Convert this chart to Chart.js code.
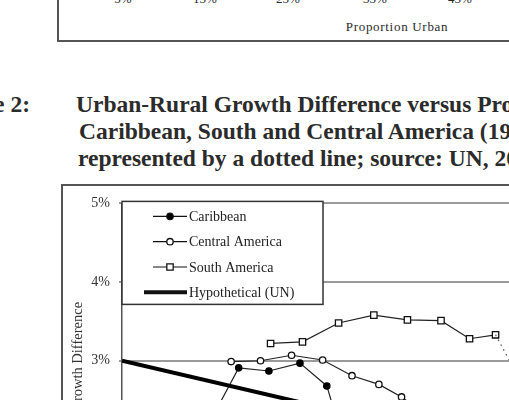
<!DOCTYPE html>
<html>
<head>
<meta charset="utf-8">
<script src="https://cdn.jsdelivr.net/npm/chart.js@4.4.1/dist/chart.umd.min.js"></script>
<style>
  html, body { margin: 0; padding: 0; background: #fff; }
  body { width: 509px; height: 400px; overflow: hidden; position: relative; font-family: "Liberation Serif", serif; color: #2a2a2a; }
  .prev { position: absolute; left: 57px; top: -10px; width: 700px; height: 50px; border-left: 2px solid #555; border-bottom: 2px solid #555; }
  .prevTick { position: absolute; top: -8px; font-size: 13px; line-height: 13px; transform: translateX(-50%); }
  .prevTitle { position: absolute; top: 19px; left: 397px; transform: translateX(-50%); font-size: 13px; letter-spacing: 0.7px; white-space: nowrap; }
  .cap { position: absolute; font-weight: bold; font-size: 23.5px; line-height: 27px; white-space: nowrap; color: #2b2b2b; }
  #frame { position: absolute; left: 61px; top: 184px; width: 700px; height: 520px; border: 2px solid #555; box-sizing: border-box; }
  #chart { position: absolute; left: 0; top: 0; }
</style>
</head>
<body>

<!-- bottom of the previous figure -->
<div class="prev"></div>
<div class="prevTick" style="left:123px">5%</div>
<div class="prevTick" style="left:205px">15%</div>
<div class="prevTick" style="left:288px">25%</div>
<div class="prevTick" style="left:375px">35%</div>
<div class="prevTick" style="left:460px">45%</div>
<div class="prevTitle">Proportion Urban</div>

<!-- caption -->
<div class="cap" style="right:479px; top:91px">Figure 2:</div>
<div class="cap" style="left:76px; top:91px">Urban-Rural Growth Difference versus Proportion Urban for the</div>
<div class="cap" style="left:79px; top:118px">Caribbean, South and Central America (1950-2030; projections</div>
<div class="cap" style="left:78px; top:145px">represented by a dotted line; source: UN, 2002)</div>

<div id="frame">
  <canvas id="chart" width="662" height="449" style="width:662px;height:449px"></canvas>
</div>

<script>
// Caribbean
const caribbeanX = [35.0, 38.9, 42.5, 46.2, 49.4, 51.0];
const caribbeanY = [2.13, 2.91, 2.87, 2.97, 2.68, 2.10];
// Central America
const centralX = [38.0, 41.5, 45.2, 48.9, 52.4, 55.6, 58.3, 61.0];
const centralY = [2.99, 3.00, 3.07, 3.01, 2.81, 2.70, 2.54, 2.33];
// South America
const southX = [42.7, 46.5, 50.8, 55.0, 59.0, 63.0, 66.4, 69.5];
const southY = [3.22, 3.24, 3.48, 3.58, 3.52, 3.51, 3.28, 3.33];
// South America projection (dotted)
const southProjX = [69.5, 73.0];
const southProjY = [3.33, 2.64];
// Hypothetical (UN)
const hypoX = [25, 95];
const hypoY = [3.0, 1.26];

const yTicks = [1, 2, 3, 4, 5];
const xTicks = [25, 35, 45, 55, 65, 75, 85, 95];

const pts = (xs, ys) => xs.map((x, i) => ({ x: x, y: ys[i] }));
const serif = '"Liberation Serif", serif';

// legend box drawn inside the plot, top left
const boxLegend = {
    id: 'boxLegend',
    afterDatasetsDraw(chart) {
        const { ctx, chartArea: ca } = chart;
        const x0 = ca.left, y0 = ca.top - 2, w = 201, h = 103;
        ctx.save();
        ctx.fillStyle = '#fff';
        ctx.fillRect(x0, y0, w, h);
        ctx.strokeStyle = '#333';
        ctx.lineWidth = 1.5;
        ctx.strokeRect(x0, y0, w, h);
        ctx.font = '14px ' + serif;
        ctx.textBaseline = 'middle';
        const items = chart.data.datasets.filter(d => d.legendOrder !== undefined)
            .sort((a, b) => a.legendOrder - b.legendOrder);
        items.forEach((d, i) => {
            const y = y0 + 15 + i * 25.3;
            ctx.strokeStyle = '#111';
            ctx.lineWidth = d.borderWidth;
            ctx.beginPath();
            ctx.moveTo(x0 + (d.borderWidth > 2 ? 22 : 31), y);
            ctx.lineTo(x0 + 65, y);
            ctx.stroke();
            if (d.pointRadius > 0) {
                ctx.fillStyle = d.pointBackgroundColor;
                ctx.strokeStyle = '#111';
                ctx.lineWidth = d.pointBorderWidth;
                Chart.helpers.drawPoint(ctx, {
                    pointStyle: d.pointStyle, radius: d.pointRadius,
                    borderWidth: d.pointBorderWidth, rotation: 0
                }, x0 + 48, y);
            }
            ctx.fillStyle = '#222';
            ctx.fillText(d.label, x0 + 67, y + 1);
        });
        ctx.restore();
    }
};

new Chart(document.getElementById('chart'), {
    type: 'scatter',
    data: {
        datasets: [
            {
                label: 'Hypothetical (UN)', legendOrder: 3,
                data: pts(hypoX, hypoY), showLine: true,
                borderColor: '#000', borderWidth: 4, pointRadius: 0
            },
            {
                label: 'South America projection',
                data: pts(southProjX, southProjY), showLine: true,
                borderColor: '#555', borderWidth: 1.2, borderDash: [1.5, 4], pointRadius: 0
            },
            {
                label: 'South America', legendOrder: 2,
                data: pts(southX, southY), showLine: true,
                borderColor: '#222', borderWidth: 1.2,
                pointStyle: 'rect', pointRadius: 4.5, pointBorderWidth: 1.3,
                pointBackgroundColor: '#fff', pointBorderColor: '#111'
            },
            {
                label: 'Central America', legendOrder: 1,
                data: pts(centralX, centralY), showLine: true,
                borderColor: '#222', borderWidth: 1.2,
                pointStyle: 'circle', pointRadius: 3.2, pointBorderWidth: 1.3,
                pointBackgroundColor: '#fff', pointBorderColor: '#111'
            },
            {
                label: 'Caribbean', legendOrder: 0,
                data: pts(caribbeanX, caribbeanY), showLine: true,
                borderColor: '#222', borderWidth: 1.2,
                pointStyle: 'circle', pointRadius: 3.2, pointBorderWidth: 1.2,
                pointBackgroundColor: '#000', pointBorderColor: '#000'
            }
        ]
    },
    options: {
        responsive: false,
        animation: false,
        devicePixelRatio: 1,
        layout: { padding: { top: 11, right: 15, bottom: 0, left: 0 } },
        plugins: { legend: { display: false }, tooltip: { enabled: false } },
        scales: {
            x: {
                type: 'linear', min: 25, max: 95,
                afterFit: a => { a.height = 48; },
                afterBuildTicks: a => { a.ticks = xTicks.map(v => ({ value: v })); },
                grid: { display: false },
                border: { color: '#555', width: 1.5 },
                ticks: { color: '#333', font: { family: serif, size: 13.5 }, callback: v => v + '%' },
                title: { display: true, text: 'Proportion Urban', color: '#333', font: { family: serif, size: 13.5 } }
            },
            y: {
                min: 0.125, max: 5,
                afterFit: a => { a.width = 59; },
                afterBuildTicks: a => { a.ticks = yTicks.map(v => ({ value: v })); },
                grid: { color: '#9a9a9a', lineWidth: 2, tickLength: 3 },
                border: { color: '#555', width: 1.5 },
                ticks: { padding: 9, color: '#333', font: { family: serif, size: 14 }, callback: v => v + '%' },
                title: {
                    display: true, text: 'Urban-Rural Growth Difference', color: '#333',
                    font: { family: serif, size: 14.5 }, padding: { top: 6, bottom: 0 }
                }
            }
        }
    },
    plugins: [boxLegend]
});
</script>
</body>
</html>
